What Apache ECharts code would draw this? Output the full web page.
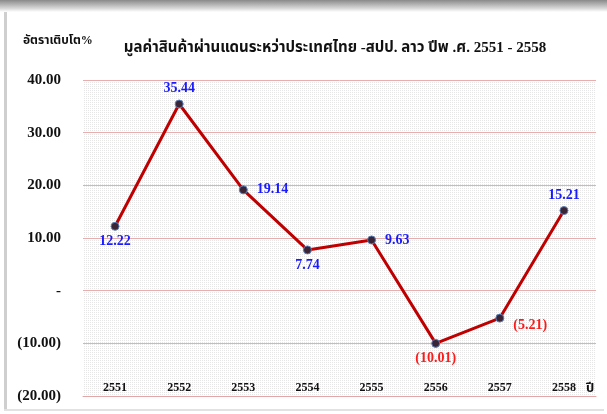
<!DOCTYPE html>
<html><head><meta charset="utf-8">
<script src="https://cdn.jsdelivr.net/npm/echarts@6/dist/echarts.min.js"></script>
<style>
html,body{margin:0;padding:0;background:#fff;}
#frame{position:absolute;left:0;top:0;width:607px;height:414px;overflow:hidden;}
#topband{position:absolute;left:0;top:0;width:607px;height:12px;background:linear-gradient(#8a8a8a,#d8d8d8 70%,#fff);}
#leftbar{position:absolute;left:4px;top:12px;width:3px;height:398px;background:#cfcfcf;}
#bottombar{position:absolute;left:4px;top:409px;width:600px;height:2px;background:#e2e2e2;}
#chart{position:absolute;left:0;top:0;width:607px;height:414px;}
</style></head>
<body>
<div id="frame"><div id="topband"></div><div id="leftbar"></div><div id="bottombar"></div>
<div id="chart"></div></div>
<script>
const categories = ['2551','2552','2553','2554','2555','2556','2557','2558'];
const growth = [12.22, 35.44, 19.14, 7.74, 9.63, -10.01, -5.21, 15.21];
const labelPositions = ['bottom','top','right','bottom','right','bottom','right','top'];
const yTicks = {min:-20, max:40, interval:10};
const titleText = 'มูลค่าสินค้าผ่านแดนระหว่าประเทศไทย -สปป. ลาว ปีพ .ศ. 2551 - 2558';
const yAxisTitle = 'อัตราเติบโต%';
const xAxisTitle = 'ปี';

function fmt(v){
  if (Math.abs(v) < 1e-9) return '-';
  const s = Math.abs(v).toFixed(2);
  return v < 0 ? '(' + s + ')' : s;
}
// dotted background pattern
const pc = document.createElement('canvas');
pc.width = 2; pc.height = 2;
const pctx = pc.getContext('2d');
pctx.fillStyle = '#ffffff'; pctx.fillRect(0,0,2,2);
pctx.fillStyle = '#e6e6e6'; pctx.fillRect(0,0,1,1);

const serif = '"Liberation Serif","Times New Roman","Noto Sans Thai","Noto Sans",serif';
const chart = echarts.init(document.getElementById('chart'));
chart.setOption({
  animation:false,
  title:[
    {text:titleText, left:330, textAlign:'center', top:36,
     textStyle:{fontFamily:serif, fontWeight:'bold', fontSize:15, color:'#111'}},
    {text:yAxisTitle, left:18, top:30,
     textStyle:{fontFamily:serif, fontWeight:'bold', fontSize:12, color:'#111'}}
  ],
  grid:{left:83, right:11, top:80, bottom:18, show:true,
        backgroundColor:{image:pc, repeat:'repeat'}, borderWidth:0},
  xAxis:{type:'category', data:categories, boundaryGap:true,
    name:xAxisTitle, nameLocation:'end', nameGap:-10,
    nameTextStyle:{fontFamily:serif, fontWeight:'bold', fontSize:13, color:'#111', align:'left', verticalAlign:'bottom', padding:[0,0,1,0]},
    axisLine:{onZero:false, lineStyle:{color:'#e2a6a6', width:1}},
    axisTick:{show:false},
    axisLabel:{margin:-2, verticalAlign:'bottom', fontFamily:serif, fontWeight:'bold', fontSize:12, color:'#111'}},
  yAxis:{type:'value', min:yTicks.min, max:yTicks.max, interval:yTicks.interval,
    axisLine:{show:false}, axisTick:{show:false},
    splitLine:{lineStyle:{color:'#e8aeae', width:1}},
    axisLabel:{margin:22, formatter:fmt, fontFamily:serif, fontWeight:'bold', fontSize:15, color:'#111'}},
  series:[{
    type:'line', 
    data:growth.map((v,i)=>({value:v, label:{position:labelPositions[i], color: v<0 ? '#ff1a1a' : '#1a1aff',
      distance: labelPositions[i]==='right' ? 9 : 4, offset: v<0 && labelPositions[i]==='right' ? [0,7] : [0,0]}})),
    lineStyle:{color:'#c00000', width:3},
    symbol:'circle', symbolSize:8,
    itemStyle:{color:'#3b2535', borderColor:'#5b7fb8', borderWidth:1},
    label:{show:true, distance:4, formatter:p=>fmt(p.value), fontFamily:serif, fontWeight:'bold', fontSize:14}
  }]
});
</script>
</body></html>
